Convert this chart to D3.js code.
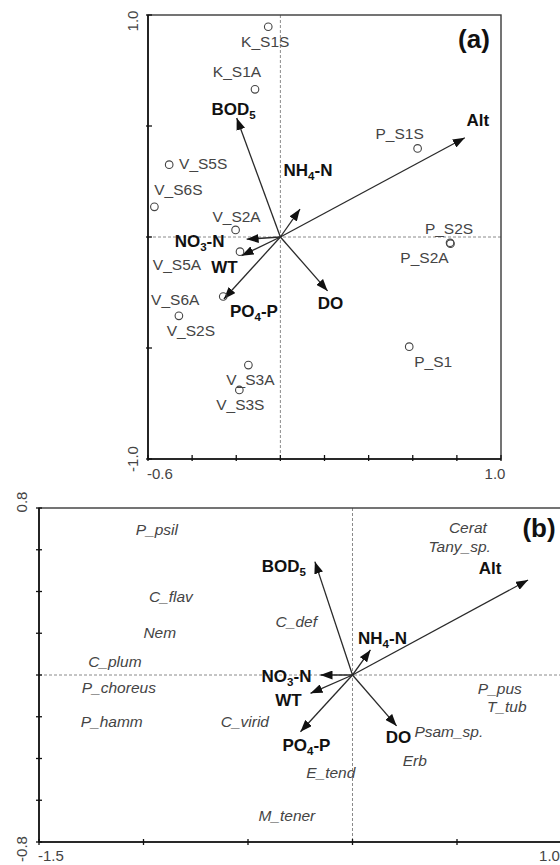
<!DOCTYPE html>
<html>
<head>
<meta charset="utf-8">
<script src="https://cdn.jsdelivr.net/npm/d3@7"></script>
<style>
  html, body { margin: 0; padding: 0; background: #fff; }
  svg { display: block; }
</style>
</head>
<body>
<svg id="chart" width="560" height="865"></svg>
<script>
// ---- Ordination scores ----------------------------------------------------
// (a) sampling sites (circles)
const siteScores = [
  { name: "K_S1S", x: -0.055, y: 0.947 },
  { name: "K_S1A", x: -0.115, y: 0.665 },
  { name: "V_S5S", x: -0.504, y: 0.326 },
  { name: "V_S6S", x: -0.571, y: 0.136 },
  { name: "V_S2A", x: -0.203, y: 0.032 },
  { name: "V_S5A", x: -0.183, y: -0.066 },
  { name: "V_S6A", x: -0.259, y: -0.268 },
  { name: "V_S2S", x: -0.460, y: -0.355 },
  { name: "V_S3A", x: -0.145, y: -0.577 },
  { name: "V_S3S", x: -0.186, y: -0.689 },
  { name: "P_S1S", x: 0.622, y: 0.399 },
  { name: "P_S2S", x: 0.769, y: -0.026 },
  { name: "P_S2A", x: 0.771, y: -0.030 },
  { name: "P_S1",  x: 0.584, y: -0.494 }
];

// (a) environmental variables (arrows)
const envScoresA = [
  { name: "BOD5",  x: -0.198, y: 0.536 },
  { name: "Alt",   x: 0.836,  y: 0.447 },
  { name: "NH4-N", x: 0.089,  y: 0.126 },
  { name: "NO3-N", x: -0.153, y: -0.010 },
  { name: "WT",    x: -0.176, y: -0.084 },
  { name: "PO4-P", x: -0.256, y: -0.279 },
  { name: "DO",    x: 0.214,  y: -0.243 }
];

// (b) taxa
const speciesScores = [
  { name: "P_psil",    x: -0.936, y: 0.695 },
  { name: "C_flav",    x: -0.869, y: 0.378 },
  { name: "Nem",       x: -0.922, y: 0.201 },
  { name: "C_plum",    x: -1.137, y: 0.062 },
  { name: "P_choreus", x: -1.118, y: -0.062 },
  { name: "P_hamm",    x: -1.152, y: -0.225 },
  { name: "C_virid",   x: -0.515, y: -0.225 },
  { name: "M_tener",   x: -0.314, y: -0.675 },
  { name: "E_tend",    x: -0.104, y: -0.469 },
  { name: "C_def",     x: -0.269, y: 0.256 },
  { name: "Cerat",     x: 0.552,  y: 0.704 },
  { name: "Tany_sp.",  x: 0.513,  y: 0.613 },
  { name: "P_pus",     x: 0.705,  y: -0.067 },
  { name: "T_tub",     x: 0.738,  y: -0.149 },
  { name: "Psam_sp.",  x: 0.461,  y: -0.273 },
  { name: "Erb",       x: 0.298,  y: -0.412 }
];

// (b) environmental variables (arrows)
const envScoresB = [
  { name: "BOD5",  x: -0.180, y: 0.543 },
  { name: "Alt",   x: 0.840,  y: 0.455 },
  { name: "NH4-N", x: 0.086,  y: 0.120 },
  { name: "NO3-N", x: -0.153, y: 0.000 },
  { name: "WT",    x: -0.201, y: -0.088 },
  { name: "PO4-P", x: -0.249, y: -0.272 },
  { name: "DO",    x: 0.211,  y: -0.244 }
];

// Axis domains, tick values and the end labels shown on each axis
const domainA = { x: [-0.6, 1.0], y: [-1.0, 1.0] };
const ticksA  = { x: [-0.6, -0.4, -0.2, 0, 0.2, 0.4, 0.6, 0.8, 1.0], y: [-1.0, -0.5, 0, 0.5, 1.0] };
const tickLabelsA = { x: ["-0.6", "1.0"], y: ["-1.0", "1.0"] };

const domainB = { x: [-1.5, 1.0], y: [-0.8, 0.8] };
const ticksB  = { x: [-1.5, -1.0, -0.5, 0, 0.5, 1.0], y: [-0.8, -0.6, -0.4, -0.2, 0, 0.2, 0.4, 0.6, 0.8] };
const tickLabelsB = { x: ["-1.5", "1.0"], y: ["-0.8", "0.8"] };

// ---- Label placement (pixel offsets from the point / arrow tip) ------------
const siteLabelOffset = {
  "K_S1S": [-3, 15], "K_S1A": [-18, -18], "V_S5S": [34, -1], "V_S6S": [24, -17],
  "V_S2A": [1, -13], "V_S5A": [-63, 13], "V_S6A": [-48, 3], "V_S2S": [12, 15],
  "V_S3A": [2, 14], "V_S3S": [1, 15], "P_S1S": [-18, -15], "P_S2S": [-1, -14],
  "P_S2A": [-26, 14], "P_S1": [24, 15]
};
const envLabelOffsetA = {
  "BOD5": [-3, -9], "Alt": [13, -18], "NH4-N": [8, -39], "NO3-N": [-47, 2],
  "WT": [-17, 11], "PO4-P": [30, 12], "DO": [3, 12]
};
const envLabelOffsetB = {
  "BOD5": [-31, 4], "Alt": [-38, -12], "NH4-N": [12, -12], "NO3-N": [-34, 1],
  "WT": [-22, 7], "PO4-P": [6, 13], "DO": [2, 11]
};

// ---- Drawing ---------------------------------------------------------------
const FONT = "'Liberation Sans', Arial, Helvetica, sans-serif";
const svg = d3.select("#chart");

svg.append("defs").append("marker")
  .attr("id", "head")
  .attr("viewBox", "0 -4.5 12 9")
  .attr("refX", 12).attr("refY", 0)
  .attr("markerUnits", "userSpaceOnUse")
  .attr("markerWidth", 12).attr("markerHeight", 9)
  .attr("orient", "auto")
  .append("path")
  .attr("d", "M0,-4.5L12,0L0,4.5Z")
  .attr("fill", "#111");

// Write a variable name, turning digits into subscripts (BOD5 -> BOD₅)
function writeEnvName(textSel, name) {
  const parts = name.split(/(\d)/).filter(s => s.length);
  let lowered = false;
  parts.forEach(p => {
    const isSub = /^\d$/.test(p);
    const t = textSel.append("tspan").text(p);
    if (isSub) {
      t.attr("font-size", "0.68em").attr("dy", 4);
      lowered = true;
    } else if (lowered) {
      t.attr("dy", -4);
      lowered = false;
    }
  });
}

function drawPanel(cfg) {
  const g = svg.append("g");
  const x = d3.scaleLinear().domain(cfg.domain.x).range([cfg.left, cfg.right]);
  const y = d3.scaleLinear().domain(cfg.domain.y).range([cfg.bottom, cfg.top]);
  const x0 = x(0), y0 = y(0);

  // dashed zero lines
  g.append("line")
    .attr("x1", x0).attr("x2", x0).attr("y1", cfg.top).attr("y2", cfg.bottom)
    .attr("stroke", "#8a8a8a").attr("stroke-width", 1).attr("stroke-dasharray", "3,2");
  g.append("line")
    .attr("x1", cfg.left).attr("x2", cfg.frameRight).attr("y1", y0).attr("y2", y0)
    .attr("stroke", "#8a8a8a").attr("stroke-width", 1).attr("stroke-dasharray", "3,2");

  // frame
  g.append("rect")
    .attr("x", cfg.left).attr("y", cfg.top)
    .attr("width", cfg.frameRight - cfg.left).attr("height", cfg.bottom - cfg.top)
    .attr("fill", "none").attr("stroke", "#3a3a3a").attr("stroke-width", 1.4);
  g.append("line")
    .attr("x1", cfg.left).attr("x2", cfg.left).attr("y1", cfg.top).attr("y2", cfg.bottom)
    .attr("stroke", "#111").attr("stroke-width", 1.6);
  g.append("line")
    .attr("x1", cfg.left).attr("x2", cfg.frameRight).attr("y1", cfg.bottom).attr("y2", cfg.bottom)
    .attr("stroke", "#111").attr("stroke-width", 1.6);

  // tick marks
  g.selectAll(".xt").data(cfg.ticks.x).join("line")
    .attr("x1", d => x(d)).attr("x2", d => x(d))
    .attr("y1", cfg.bottom - cfg.tickIn).attr("y2", cfg.bottom + cfg.tickOut)
    .attr("stroke", "#111").attr("stroke-width", 1.3);
  g.selectAll(".yt").data(cfg.ticks.y).join("line")
    .attr("x1", cfg.left - cfg.tickOut).attr("x2", cfg.left + cfg.tickIn)
    .attr("y1", d => y(d)).attr("y2", d => y(d))
    .attr("stroke", "#111").attr("stroke-width", 1.3);

  // axis end labels
  const tl = { "font-family": FONT, "font-size": 15, fill: "#444" };
  cfg.tickLabels.x.forEach((lab, i) => {
    const v = +lab;
    const t = g.append("text").text(lab)
      .attr("x", x(v) + cfg.xLabelShift[i]).attr("y", cfg.bottom + cfg.xLabelDy)
      .attr("text-anchor", i === 0 ? "start" : "middle");
    Object.entries(tl).forEach(([k, val]) => t.attr(k, val));
  });
  cfg.tickLabels.y.forEach((lab, i) => {
    const v = +lab;
    const cx = cfg.left - cfg.yLabelDx, cy = y(v) + cfg.yLabelShift[i];
    const t = g.append("text").text(lab)
      .attr("transform", `translate(${cx},${cy}) rotate(-90)`)
      .attr("text-anchor", "middle").attr("dy", "0.35em");
    Object.entries(tl).forEach(([k, val]) => t.attr(k, val));
  });

  // arrows
  g.selectAll(".arrow").data(cfg.env).join("line")
    .attr("x1", x0).attr("y1", y0)
    .attr("x2", d => x(d.x)).attr("y2", d => y(d.y))
    .attr("stroke", "#2a2a2a").attr("stroke-width", 1.3)
    .attr("marker-end", "url(#head)");

  cfg.env.forEach(d => {
    const off = cfg.envOffset[d.name];
    const t = g.append("text")
      .attr("x", x(d.x) + off[0]).attr("y", y(d.y) + off[1] + 6)
      .attr("text-anchor", "middle")
      .attr("font-family", FONT).attr("font-size", 17).attr("font-weight", "bold")
      .attr("fill", "#111");
    writeEnvName(t, d.name);
  });

  // panel tag
  g.append("text").text(cfg.tag)
    .attr("x", cfg.tagPos[0]).attr("y", cfg.tagPos[1])
    .attr("text-anchor", "middle")
    .attr("font-family", FONT).attr("font-size", 26).attr("font-weight", "bold")
    .attr("fill", "#111");

  return { g, x, y };
}

// Panel (a): sites and environmental variables
const pa = drawPanel({
  left: 148, right: 501, frameRight: 501, top: 15, bottom: 459,
  domain: domainA, ticks: ticksA, tickLabels: tickLabelsA,
  tickIn: 4, tickOut: 2,
  xLabelShift: [-1, -6], xLabelDy: 20,
  yLabelDx: 15, yLabelShift: [0, 6],
  env: envScoresA, envOffset: envLabelOffsetA,
  tag: "(a)", tagPos: [474, 48]
});

pa.g.selectAll(".site").data(siteScores).join("circle")
  .attr("cx", d => pa.x(d.x)).attr("cy", d => pa.y(d.y)).attr("r", 3.8)
  .attr("fill", "none").attr("stroke", "#444").attr("stroke-width", 1.1);

pa.g.selectAll(".siteLabel").data(siteScores).join("text")
  .text(d => d.name)
  .attr("x", d => pa.x(d.x) + siteLabelOffset[d.name][0])
  .attr("y", d => pa.y(d.y) + siteLabelOffset[d.name][1])
  .attr("dy", "0.35em").attr("text-anchor", "middle")
  .attr("font-family", FONT).attr("font-size", 15.5).attr("fill", "#444");

// Panel (b): taxa and environmental variables
const pb = drawPanel({
  left: 39, right: 561.5, frameRight: 562, top: 508, bottom: 842,
  domain: domainB, ticks: ticksB, tickLabels: tickLabelsB,
  tickIn: 3, tickOut: 3,
  xLabelShift: [-1, -12], xLabelDy: 19,
  yLabelDx: 17, yLabelShift: [7, -6],
  env: envScoresB, envOffset: envLabelOffsetB,
  tag: "(b)", tagPos: [539, 537]
});

pb.g.selectAll(".sp").data(speciesScores).join("text")
  .text(d => d.name)
  .attr("x", d => pb.x(d.x)).attr("y", d => pb.y(d.y))
  .attr("dy", "0.35em").attr("text-anchor", "middle")
  .attr("font-family", FONT).attr("font-size", 15.5).attr("font-style", "italic")
  .attr("fill", "#444");
</script>
</body>
</html>
